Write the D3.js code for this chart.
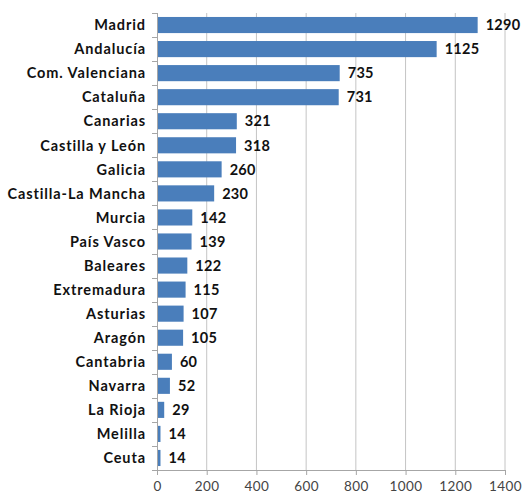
<!DOCTYPE html>
<html>
<head>
<meta charset="utf-8">
<script src="https://cdn.jsdelivr.net/npm/d3@7"></script>
<style>
  body { margin: 0; background: #fff; }
  svg text { font-family: "Lato", "DejaVu Sans", sans-serif; }
</style>
</head>
<body>
<div id="chart"></div>
<script>
const regions = ['Madrid', 'Andalucía', 'Com. Valenciana', 'Cataluña', 'Canarias',
  'Castilla y León', 'Galicia', 'Castilla-La Mancha', 'Murcia', 'País Vasco',
  'Baleares', 'Extremadura', 'Asturias', 'Aragón', 'Cantabria', 'Navarra',
  'La Rioja', 'Melilla', 'Ceuta'];
const values = [1290, 1125, 735, 731, 321, 318, 260, 230, 142, 139, 122, 115, 107, 105, 60, 52, 29, 14, 14];
const xTicks = [0, 200, 400, 600, 800, 1000, 1200, 1400];

const width = 522, height = 493;
const margin = { left: 157, right: 17, top: 13, bottom: 23 };
const chartWidth = width - margin.left - margin.right;
const chartHeight = height - margin.top - margin.bottom;

const svg = d3.select('#chart').append('svg')
  .attr('width', width)
  .attr('height', height);

const xScale = d3.scaleLinear().domain([0, 1400]).range([0, chartWidth]);
const yScale = d3.scaleBand().domain(regions).range([0, chartHeight]).paddingInner(0.33).paddingOuter(0.165);

const g = svg.append('g').attr('transform', `translate(${margin.left},${margin.top})`);

// gridlines
g.append('g')
  .selectAll('line')
  .data(xTicks.slice(1))
  .enter()
  .append('line')
  .attr('x1', d => xScale(d))
  .attr('x2', d => xScale(d))
  .attr('y1', 0)
  .attr('y2', chartHeight)
  .attr('stroke', '#c4c4c4')
  .attr('stroke-width', 1);

// bars
g.append('g')
  .selectAll('rect')
  .data(values)
  .enter()
  .append('rect')
  .attr('x', 0)
  .attr('y', (d, i) => yScale(regions[i]))
  .attr('width', d => xScale(d))
  .attr('height', yScale.bandwidth())
  .attr('fill', '#4a7ebb');

// value labels
g.append('g')
  .selectAll('text')
  .data(values)
  .enter()
  .append('text')
  .attr('x', d => xScale(d) + 8)
  .attr('y', (d, i) => yScale(regions[i]) + yScale.bandwidth() / 2)
  .attr('dy', '0.36em')
  .attr('font-size', 14.5)
  .attr('font-weight', 'bold')
  .attr('letter-spacing', 0.3)
  .attr('fill', '#111')
  .text(d => d);

// y axis
const yAxis = g.append('g').attr('class', 'axis-y');
yAxis.append('line')
  .attr('x1', 0.5).attr('x2', 0.5)
  .attr('y1', 0).attr('y2', chartHeight)
  .attr('stroke', '#a6a6a6');
yAxis.selectAll('.tick')
  .data(d3.range(regions.length + 1))
  .enter()
  .append('line')
  .attr('x1', -5).attr('x2', 0.5)
  .attr('y1', i => Math.round(i * chartHeight / regions.length) + 0.5)
  .attr('y2', i => Math.round(i * chartHeight / regions.length) + 0.5)
  .attr('stroke', '#a6a6a6');
yAxis.selectAll('text')
  .data(regions)
  .enter()
  .append('text')
  .attr('x', -11)
  .attr('y', d => yScale(d) + yScale.bandwidth() / 2)
  .attr('dy', '0.36em')
  .attr('text-anchor', 'end')
  .attr('font-size', 14.5)
  .attr('font-weight', 'bold')
  .attr('letter-spacing', 0.9)
  .attr('fill', '#111')
  .text(d => d);

// x axis
const xAxis = d3.axisBottom(xScale)
  .tickValues(xTicks)
  .tickFormat(d3.format('d'))
  .tickSizeInner(5)
  .tickSizeOuter(0)
  .tickPadding(6);

const xAxisGroup = g.append('g')
  .attr('class', 'axis-x')
  .attr('transform', `translate(0,${chartHeight})`)
  .call(xAxis);
xAxisGroup.select('.domain').attr('stroke', '#a6a6a6');
xAxisGroup.selectAll('.tick line').attr('stroke', '#a6a6a6');
xAxisGroup.selectAll('text')
  .attr('font-size', 13.5)
  .attr('font-family', '"Lato", sans-serif')
  .attr('letter-spacing', 0.4)
  .attr('fill', '#444');
</script>
</body>
</html>
